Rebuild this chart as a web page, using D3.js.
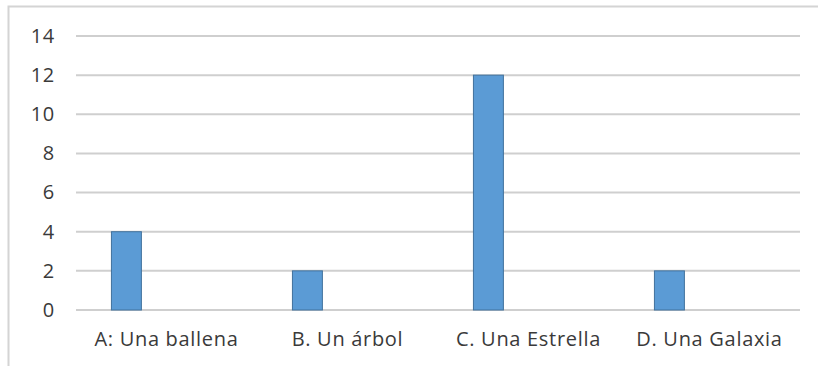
<!DOCTYPE html>
<html>
<head>
<meta charset="utf-8">
<script src="https://cdn.jsdelivr.net/npm/d3@7"></script>
<style>
  html, body { margin: 0; padding: 0; background: #fff; }
  svg { display: block; }
  .tick text { font-family: "Open Sans", sans-serif; fill: #3a3a3a; letter-spacing: 0.7px; }
</style>
</head>
<body>
<div id="chart"></div>
<script>
// Respuestas por opción
const categories = ["A: Una ballena", "B. Un árbol", "C. Una Estrella", "D. Una Galaxia"];
const series = ["Serie 1", "Serie 2"];
const values = [4, 2, 12, 2];
const yTicks = [0, 2, 4, 6, 8, 10, 12, 14];

const W = 818, H = 368;
const margin = { left: 76, right: 18, top: 36, bottom: 58 };

const svg = d3.select("#chart").append("svg")
  .attr("width", W).attr("height", H);

// chart frame
svg.append("path")
  .attr("d", `M8.5,366 L8.5,6.5 L818,6.5`)
  .attr("fill", "none")
  .attr("stroke", "#d4d4d4")
  .attr("stroke-width", 2);

const x = d3.scaleBand()
  .domain(categories)
  .range([margin.left, W - margin.right])
  .padding(0);

const bw = x.bandwidth();
const xs = d3.scaleBand()
  .domain(series)
  .range([bw * 0.193, bw * 0.535])
  .padding(0);

const y = d3.scaleLinear()
  .domain([0, 14])
  .range([H - margin.bottom, margin.top]);

// gridlines
svg.append("g")
  .selectAll("line")
  .data(yTicks)
  .join("line")
  .attr("x1", margin.left)
  .attr("x2", W - margin.right)
  .attr("y1", d => y(d))
  .attr("y2", d => y(d))
  .attr("stroke", "#cfcfcf")
  .attr("stroke-width", 2);

// y axis labels
const yAxis = svg.append("g")
  .attr("transform", `translate(${margin.left},0)`)
  .call(d3.axisLeft(y).tickValues(yTicks).tickSize(0).tickPadding(21));
yAxis.select(".domain").remove();
yAxis.selectAll("text").attr("font-size", 20);

// bars
svg.append("g")
  .selectAll("rect")
  .data(categories.map((c, i) => ({ c, v: values[i] })))
  .join("rect")
  .attr("x", d => x(d.c) + xs("Serie 1") + 0.5)
  .attr("width", xs.bandwidth() - 1)
  .attr("y", d => y(d.v))
  .attr("height", d => y(0) - y(d.v))
  .attr("fill", "#5b9bd5")
  .attr("stroke", "#41719c")
  .attr("stroke-width", 1);

// x axis labels
const xAxis = svg.append("g")
  .attr("transform", `translate(0,${H - margin.bottom})`)
  .call(d3.axisBottom(x).tickSize(0).tickPadding(22));
xAxis.select(".domain").remove();
xAxis.selectAll("text").attr("font-size", 20);
</script>
</body>
</html>
